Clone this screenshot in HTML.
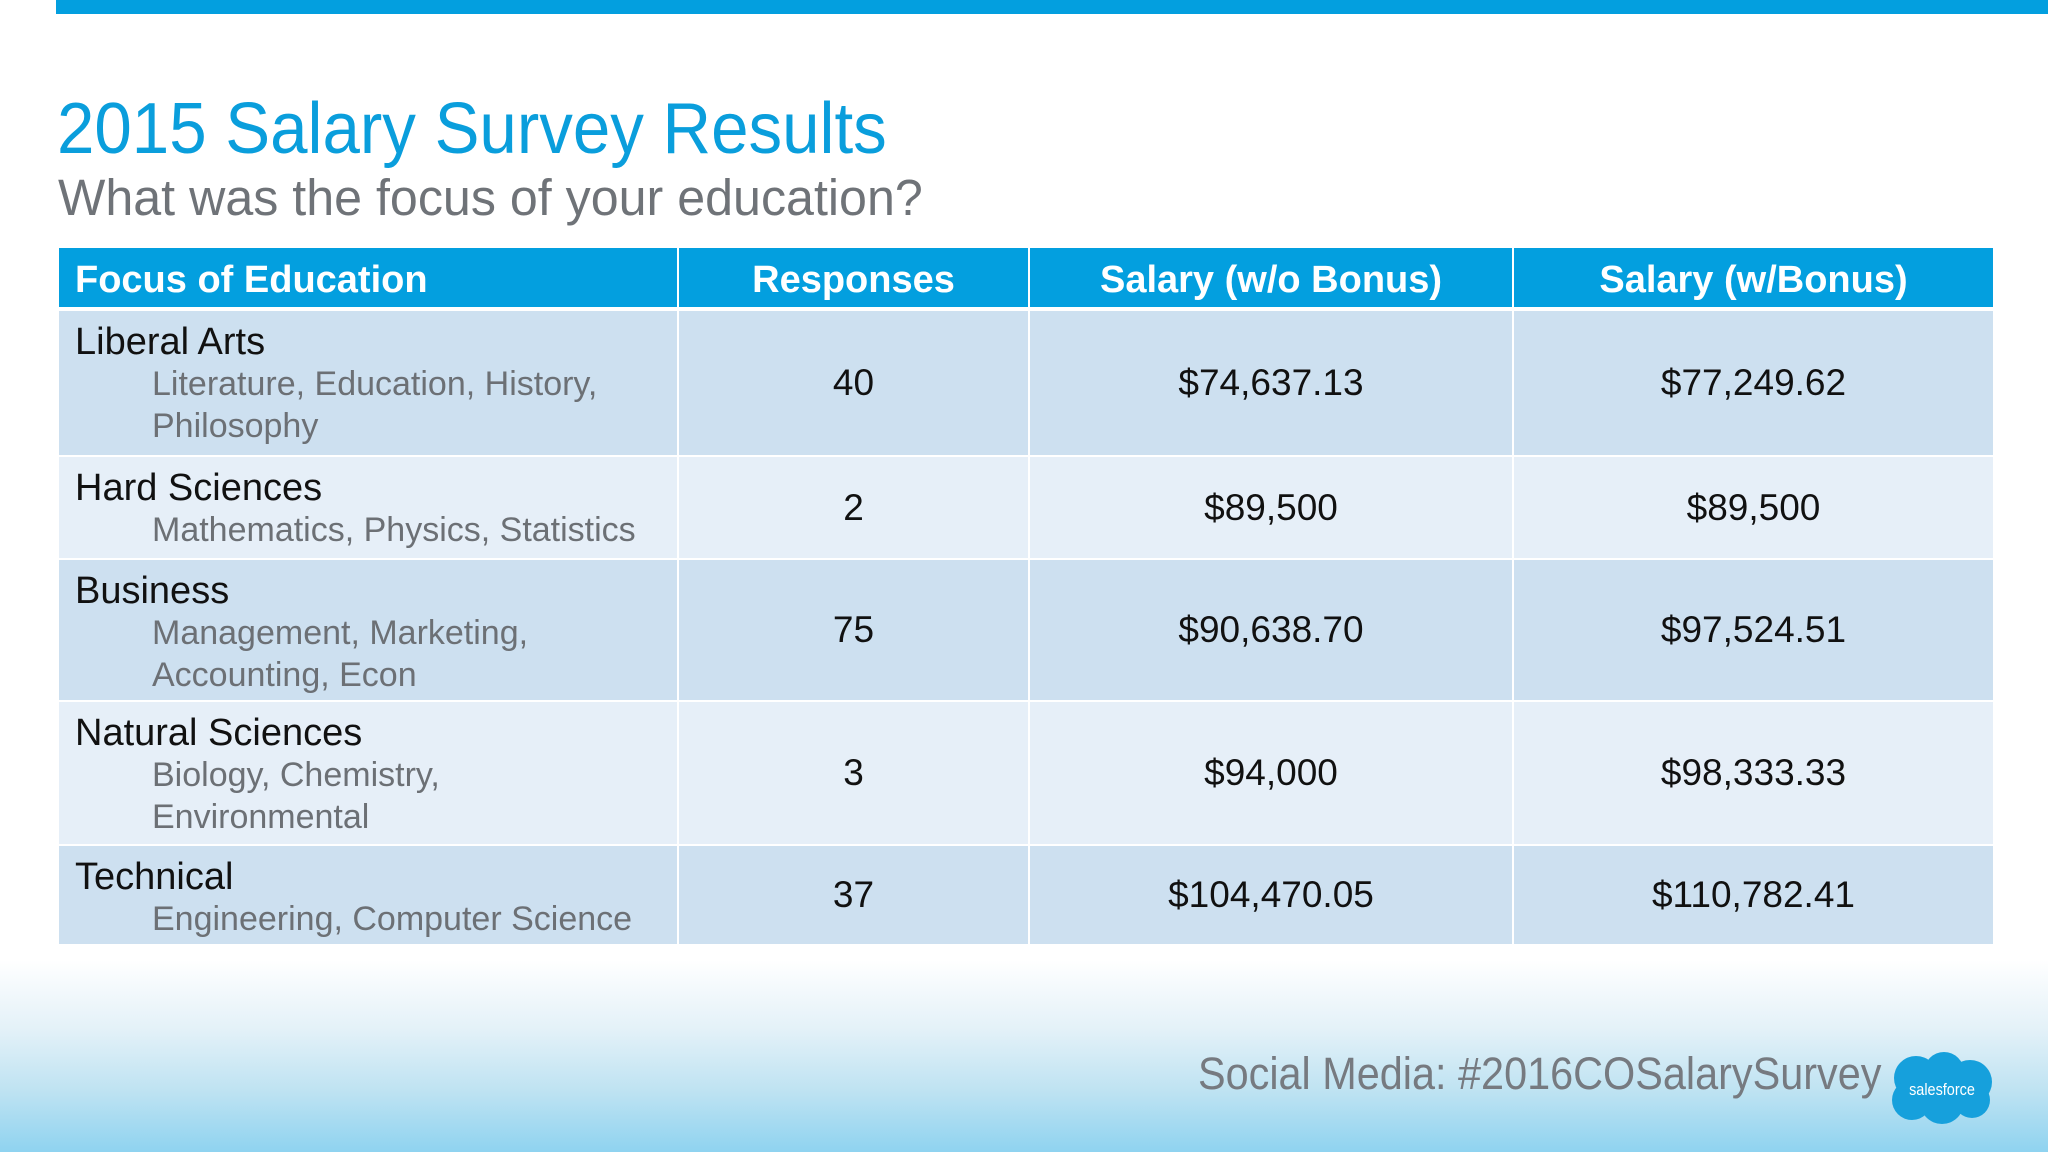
<!DOCTYPE html>
<html><head><meta charset="utf-8"><style>
*{margin:0;padding:0;box-sizing:border-box}
body{width:2048px;height:1152px;position:relative;overflow:hidden;font-family:"Liberation Sans",sans-serif;background:linear-gradient(to bottom,#fff 0px,#fff 960px,#e3f1f8 1030px,#bfe3f2 1090px,#8fd3f0 1152px)}
.abs{position:absolute}
#topbar{left:56px;top:0;width:1992px;height:14px;background:#039fdf}
#title{left:57px;top:88px;font-size:72px;color:#0a9edc;white-space:nowrap;transform:scaleX(0.934);transform-origin:left top}
#sub{left:58px;top:168px;font-size:51px;color:#6f7378;white-space:nowrap;transform:scaleX(0.984);transform-origin:left top}
.cell{position:absolute;display:flex;align-items:center;justify-content:center;font-size:37px;color:#111}
.hdr{background:#039fdf;color:#fff;font-weight:bold;font-size:38px;padding-top:6px}
.first{justify-content:flex-start;align-items:flex-start;flex-direction:column;padding-left:16px}
.main{font-size:38px;color:#111;line-height:42px}
.subt{font-size:34px;color:#6c7075;line-height:42px;padding-left:77px}
#foot{left:1198px;top:1048px;font-size:45px;color:#767a80;white-space:nowrap;transform:scaleX(0.92);transform-origin:left top}
</style></head><body>
<div class="abs" id="topbar"></div>
<div class="abs" id="title">2015 Salary Survey Results</div>
<div class="abs" id="sub">What was the focus of your education?</div>
<div id="table"></div>
<div class="abs" id="foot">Social Media: #2016COSalarySurvey</div>
<svg class="abs" style="left:1886px;top:1050px" width="112" height="78" viewBox="0 0 112 78">
<g fill="#16a0dc"><circle cx="30" cy="28" r="22"/><circle cx="58" cy="22" r="20"/><circle cx="84" cy="32" r="22"/><circle cx="26" cy="50" r="20"/><circle cx="56" cy="52" r="22"/><circle cx="86" cy="50" r="18"/></g>
<text x="56" y="45" font-size="17" fill="#fff" text-anchor="middle" font-family="Liberation Sans,sans-serif" transform="translate(56 0) scale(0.85 1) translate(-56 0)">salesforce</text></svg>
<script>
const headers=["Focus of Education","Responses","Salary (w/o Bonus)","Salary (w/Bonus)"];
const categories=["Liberal Arts","Hard Sciences","Business","Natural Sciences","Technical"];
const subLines=[["Literature, Education, History,","Philosophy"],["Mathematics, Physics, Statistics"],["Management, Marketing,","Accounting, Econ"],["Biology, Chemistry,","Environmental"],["Engineering, Computer Science"]];
const responses=["40","2","75","3","37"];
const salaryNoBonus=["$74,637.13","$89,500","$90,638.70","$94,000","$104,470.05"];
const salaryBonus=["$77,249.62","$89,500","$97,524.51","$98,333.33","$110,782.41"];
const colX=[59,677,1028,1512,1993];
const rowY=[248,311,455,558,700,844,944];
const t=document.getElementById('table');
function cell(x0,x1,y0,y1,bg,cls){const d=document.createElement('div');d.className='cell '+(cls||'');d.style.left=x0+'px';d.style.width=(x1-x0)+'px';d.style.top=y0+'px';d.style.height=(y1-y0)+'px';if(bg)d.style.background=bg;t.appendChild(d);return d;}
headers.forEach((h,i)=>{const d=cell(colX[i]+(i?2:0),colX[i+1],rowY[0],rowY[1]-4,null,'hdr');


if(i===0){d.style.justifyContent='flex-start';d.style.paddingLeft='16px';}d.textContent=h;});
categories.forEach((c,r)=>{const bg=r%2===0?'#cde0f0':'#e6eff8';const y0=rowY[r+1]+(r?2:0),y1=rowY[r+2];
const f=cell(colX[0],colX[1],y0,y1,bg,'first');


f.style.paddingTop='10px';
let h='<div class="main">'+c+'</div>';subLines[r].forEach(s=>h+='<div class="subt">'+s+'</div>');f.innerHTML=h;
[responses[r],salaryNoBonus[r],salaryBonus[r]].forEach((v,i)=>{const d=cell(colX[i+1]+2,colX[i+2],y0,y1,bg);


d.textContent=v;});});
</script>
</body></html>
